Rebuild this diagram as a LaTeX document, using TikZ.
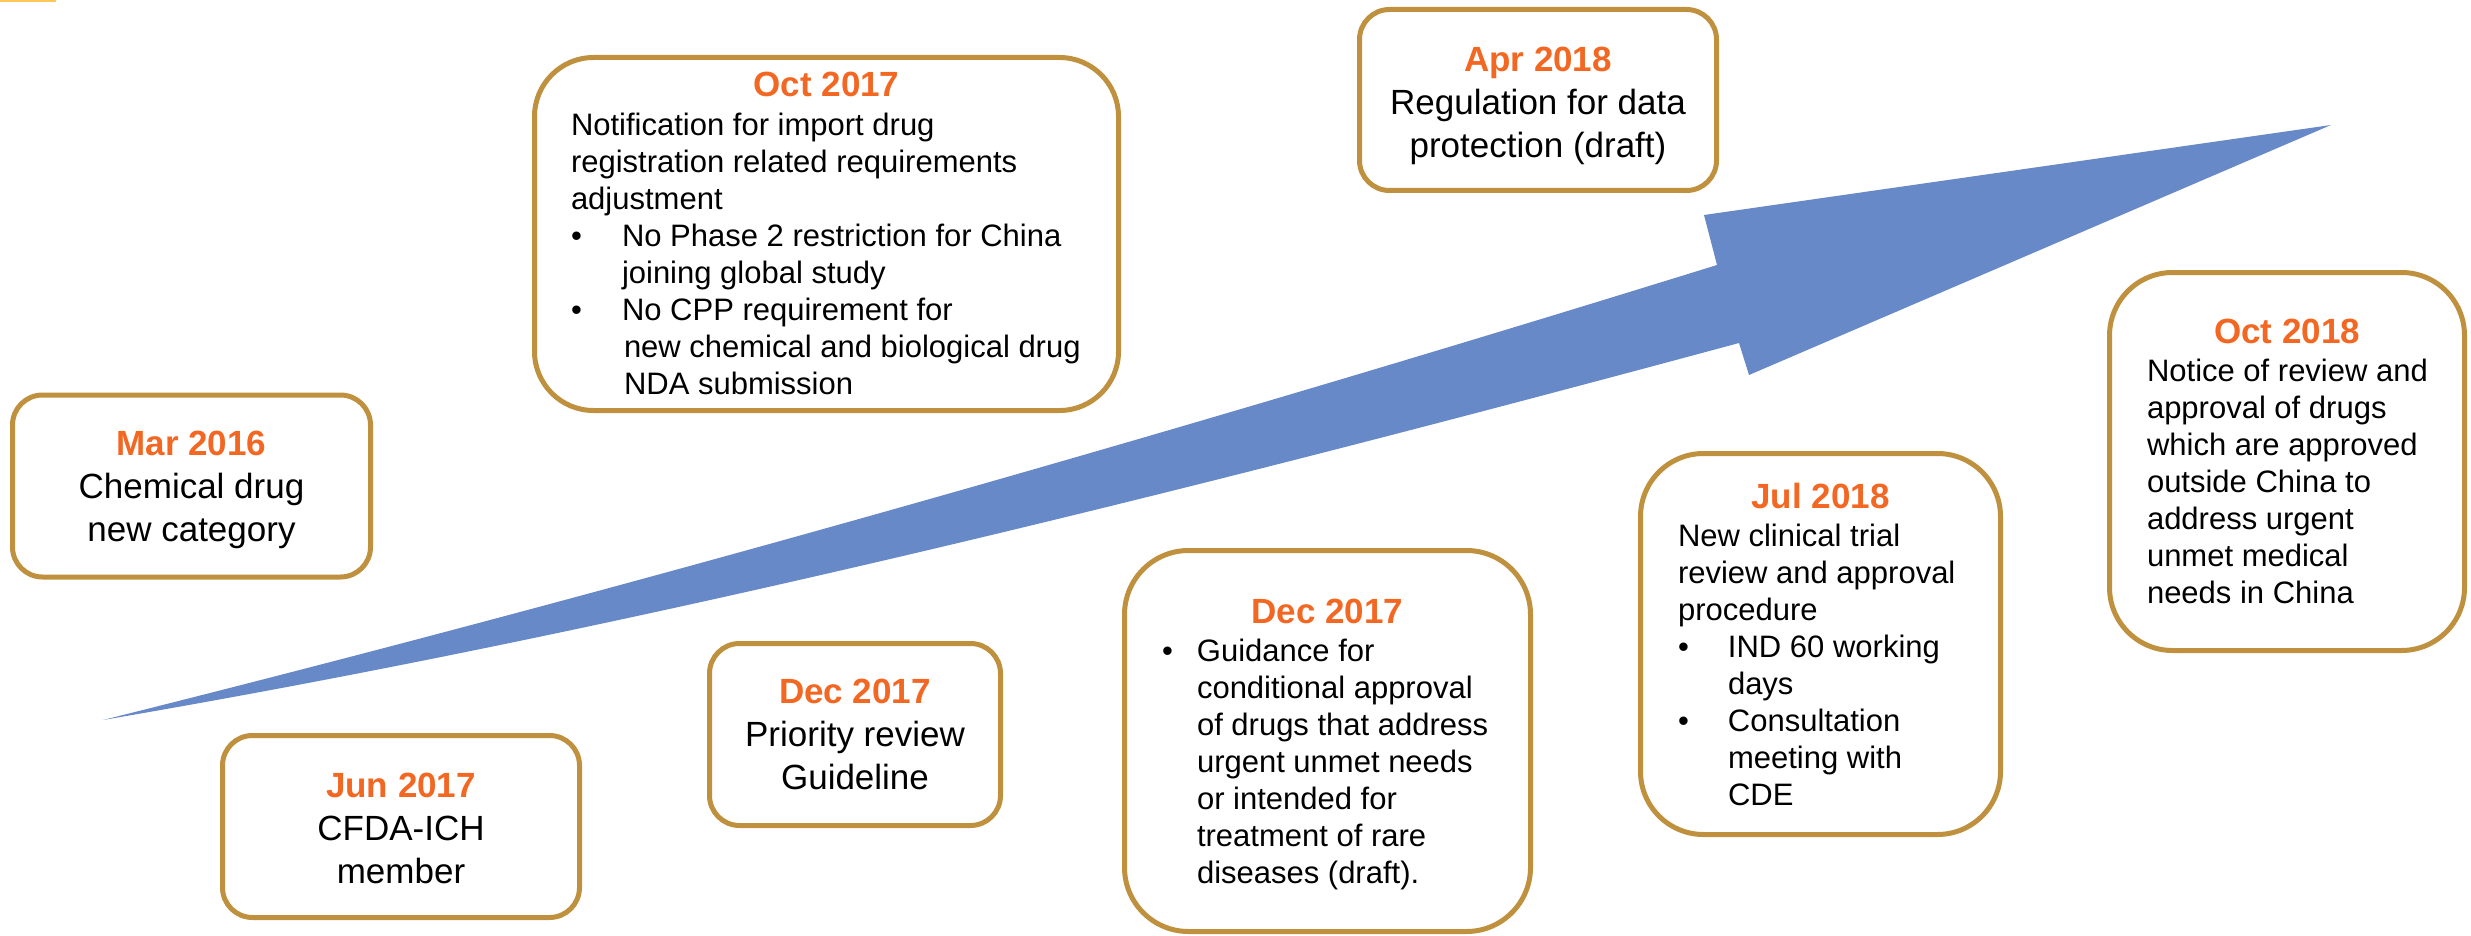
\documentclass[tikz,border=0pt]{standalone}
\usepackage{fontspec}
\setmainfont{Liberation Sans}

\definecolor{gold}{RGB}{191,145,62}
\definecolor{datecol}{RGB}{242,103,34}
\definecolor{arrowblue}{RGB}{104,137,199}
\definecolor{tabmark}{RGB}{255,198,88}

% text helpers for the event cards
\newcommand\datefont{\fontsize{35}{37}\selectfont\bfseries\color{datecol}}
\newcommand\bigfont{\fontsize{35}{43}\selectfont}
\newcommand\bodyfont{\fontsize{31}{37}\selectfont}
\newcommand\dateline[1]{{\centering\leavevmode\datefont #1\par}\vspace{1.5pt}}
\newcommand\txtline[1]{\par\noindent\mbox{#1}}
\newcommand\bulline[2]{\par\noindent\makebox[#1][l]{\textbullet}\mbox{#2}}
\newcommand\hangline[2]{\par\noindent\hspace*{#1}\mbox{#2}}
% short card: date over two centred lines
\newcommand\shortcard[3]{\begin{minipage}[t]{340pt}\centering\parskip=0pt
  {\bigfont\leavevmode\textcolor{datecol}{\bfseries #1}\par}{\bigfont #2\par #3\par}\end{minipage}}

\begin{document}
\begin{tikzpicture}[x=1pt,y=-1pt,
  evbox/.style={draw=gold, line width=5pt, fill=white, rectangle, inner sep=0pt},
  evtext/.style={inner sep=0pt, anchor=base, text=black},
  shortbox/.style={evbox, rounded corners=30pt, minimum height=182pt}]

\useasboundingbox (0,0) rectangle (2471,936);
\fill[tabmark] (0,0) rectangle (56,2.5);

% tapered progress arrow
\coordinate (tail) at (103,720);
\coordinate (notchup) at (1717,265);
\coordinate (barbup) at (1704,215);
\coordinate (tip) at (2331,125);
\coordinate (barblow) at (1749,375);
\coordinate (notchlow) at (1739,343);
\fill[arrowblue] (tail) .. controls (641,585.5) and (1179,431.8) .. (notchup)
  -- (barbup) -- (tip) -- (barblow) -- (notchlow)
  .. controls (1194,490) and (648,627) .. (tail) -- cycle;

% event cards
\node[shortbox, minimum width=358pt] (mar16) at (191.5,486) {};
\node[evtext] (mar16-t) at (191.5,455) {\shortcard{Mar 2016}{Chemical drug}{new category}};

\node[shortbox, minimum width=357pt] (jun17) at (401,826.5) {};
\node[evtext] (jun17-t) at (401,797) {\shortcard{Jun 2017}{CFDA-ICH}{member}};

\node[shortbox, minimum width=291pt] (dec17a) at (855,734.5) {};
\node[evtext] (dec17a-t) at (855,703) {\shortcard{Dec 2017}{Priority review}{Guideline}};

\node[shortbox, minimum width=357pt, minimum height=181pt] (apr18) at (1538,100) {};
\node[evtext] (apr18-t) at (1538,72) {\shortcard{Apr 2018}{Regulation for data}{protection (draft)}};

\node[evbox, rounded corners=59pt, minimum width=584pt, minimum height=353pt] (oct17) at (826.5,234) {};
\node[evtext] (oct17-t) at (826.5,97) {\begin{minipage}[t]{511pt}\parskip=0pt
  \dateline{Oct 2017}\bodyfont
  \txtline{Notification for import drug}
  \txtline{registration related requirements}
  \txtline{adjustment}
  \bulline{51pt}{No Phase 2 restriction for China}
  \hangline{51pt}{joining global study}
  \bulline{51pt}{No CPP requirement for}
  \hangline{53pt}{new chemical and biological drug}
  \hangline{53pt}{NDA submission}
\end{minipage}};

\node[evbox, rounded corners=64pt, minimum width=406pt, minimum height=381pt] (dec17b) at (1327.5,741) {};
\node[evtext] (dec17b-t) at (1327.5,623) {\begin{minipage}[t]{331pt}\parskip=0pt
  \dateline{Dec 2017}\bodyfont
  \bulline{35pt}{Guidance for}
  \hangline{35pt}{conditional approval}
  \hangline{35pt}{of drugs that address}
  \hangline{35pt}{urgent unmet needs}
  \hangline{35pt}{or intended for}
  \hangline{35pt}{treatment of rare}
  \hangline{35pt}{diseases (draft).}
\end{minipage}};

\node[evbox, rounded corners=63pt, minimum width=360pt, minimum height=381pt] (jul18) at (1820.5,644) {};
\node[evtext] (jul18-t) at (1820.5,508) {\begin{minipage}[t]{285pt}\parskip=0pt
  \dateline{Jul 2018}\bodyfont
  \txtline{New clinical trial}
  \txtline{review and approval}
  \txtline{procedure}
  \bulline{50pt}{IND 60 working}
  \hangline{50pt}{days}
  \bulline{50pt}{Consultation}
  \hangline{50pt}{meeting with}
  \hangline{50pt}{CDE}
\end{minipage}};

\node[evbox, rounded corners=63pt, minimum width=355pt, minimum height=378pt] (oct18) at (2287,461.5) {};
\node[evtext] (oct18-t) at (2287,343) {\begin{minipage}[t]{280pt}\parskip=0pt
  \dateline{Oct 2018}\bodyfont
  \txtline{Notice of review and}
  \txtline{approval of drugs}
  \txtline{which are approved}
  \txtline{outside China to}
  \txtline{address urgent}
  \txtline{unmet medical}
  \txtline{needs in China}
\end{minipage}};

\end{tikzpicture}
\end{document}
